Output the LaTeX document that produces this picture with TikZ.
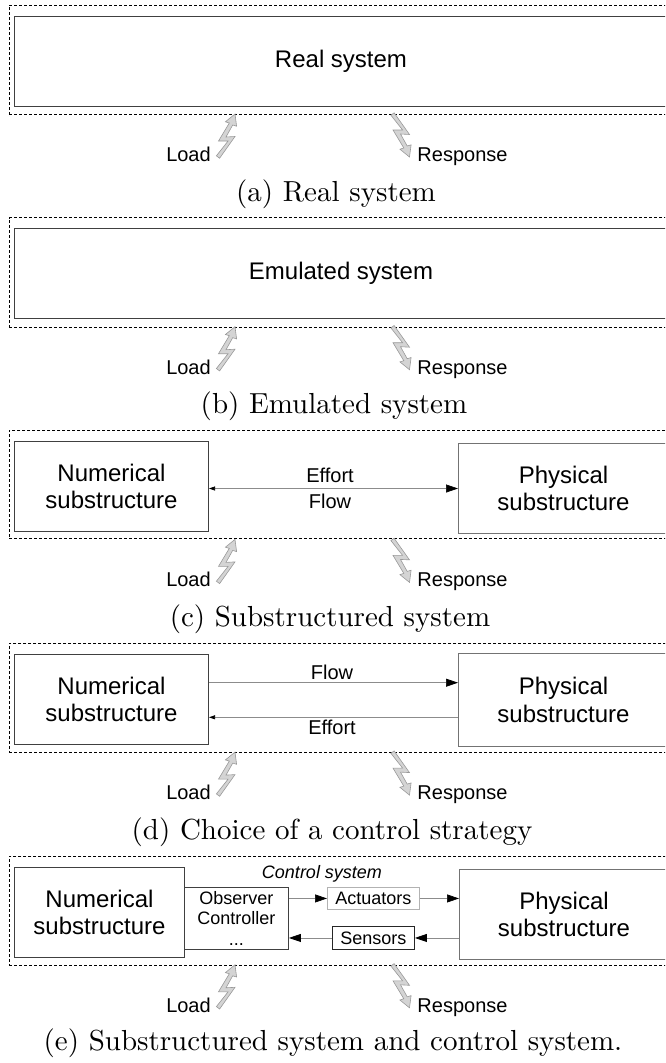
\documentclass[tikz,border=0pt]{standalone}
\usepackage{fontspec}
\newfontfamily\sansf{Liberation Sans}
\usetikzlibrary{arrows.meta}
\tikzset{
  dashbox/.style={draw=black, dash pattern=on 3pt off 2pt, line width=0.8pt, inner sep=0pt, anchor=north west},
  bigbox/.style={draw=black!75, line width=1pt, inner sep=0pt, anchor=north west, align=center, font=\sansf\fontsize{24}{27.6}\selectfont},
  physbox/.style={bigbox, draw=black!55},
  ctrlbox/.style={draw=black!75, line width=0.9pt, inner sep=0pt, anchor=north west, align=center, font=\sansf\fontsize{18}{20.7}\selectfont},
  lbl/.style={font=\sansf\fontsize{20}{23}\selectfont, anchor=base, inner sep=0pt},
  capt/.style={font=\fontsize{10}{12}\selectfont, scale=2.9, anchor=base, inner sep=0pt},
  conn/.style={draw=black!45, line width=0.7pt},
  bigtip/.style={-{Triangle[length=12pt,width=8pt,color=black]}},
  smalltip/.style={-{Triangle[length=6pt,width=4pt,color=black]}},
  boltshape/.style={draw=black!40, fill=black!17, line width=0.6pt, line join=miter},
  bolt/.pic={\path[boltshape] (0,0) -- (1.6,12.2) -- (-2.3,11) -- (-9,23) -- (0,22.5) -- (-15.4,44.2) -- (-18.6,41.8) -- (-6.9,27) -- (-16.5,27) -- (-5.7,9) -- (-9.6,7.8) -- cycle;}
}
\newcommand\loadresp[1]{%
  \pic at (235,114) {bolt};
  \pic[yscale=-1] at (409.5,157) {bolt};
  \node[lbl] (load#1) at (188.5,161.5) {Load};
  \node[lbl] (resp#1) at (462.5,161.5) {Response};
}
\begin{document}
\begin{tikzpicture}[x=1pt,y=-1pt]
\useasboundingbox (0,0) rectangle (665,1063);
\clip (0,0) rectangle (665,1063);
% ---------- (a)
\begin{scope}
  \node[dashbox, minimum width=664pt, minimum height=109.5pt] (framea) at (9,4.5) {};
  \node[bigbox, minimum width=653pt, minimum height=90pt] (real) at (14,15.5) {Real system};
  \loadresp{a}
  \node[capt] (capa) at (336,201) {(a) Real system};
\end{scope}
% ---------- (b)
\begin{scope}[shift={(0,212.7)}]
  \node[dashbox, minimum width=664pt, minimum height=109.5pt] (frameb) at (9,4.5) {};
  \node[bigbox, minimum width=653pt, minimum height=90pt] (emu) at (14,15.5) {Emulated system};
  \loadresp{b}
  \node[capt] (capb) at (334,201) {(b) Emulated system};
\end{scope}
% ---------- (c)
\begin{scope}[shift={(0,425.4)}]
  \node[dashbox, minimum width=664pt, minimum height=108pt] (framec) at (9,4.6) {};
  \node[bigbox, minimum width=194pt, minimum height=90pt] (numc) at (14,15.6) {Numerical\\substructure};
  \node[physbox, minimum width=210pt, minimum height=90pt] (physc) at (458,17.6) {Physical\\substructure};
  \draw[conn, {Triangle[length=6pt,width=4pt,color=black]}-{Triangle[length=12pt,width=8pt,color=black]}] (numc.east |- physc.west) -- (physc.west);
  \node[lbl] (effc) at (330,56.6) {Effort};
  \node[lbl] (flowc) at (330,83) {Flow};
  \loadresp{c}
  \node[capt] (capc) at (330,201) {(c) Substructured system};
\end{scope}
% ---------- (d)
\begin{scope}[shift={(0,638.1)}]
  \node[dashbox, minimum width=664pt, minimum height=109pt] (framed) at (9,4.9) {};
  \node[bigbox, minimum width=194pt, minimum height=90pt] (numd) at (14,16) {Numerical\\substructure};
  \node[physbox, minimum width=210pt, minimum height=93pt] (physd) at (458,15) {Physical\\substructure};
  \coordinate (fyd) at (0,44.6);
  \coordinate (eyd) at (0,79.2);
  \draw[conn, bigtip] (numd.east |- fyd) -- (physd.west |- fyd);
  \draw[conn, smalltip] (physd.west |- eyd) -- (numd.east |- eyd);
  \node[lbl] (flowd) at (332,41.2) {Flow};
  \node[lbl] (effd) at (332,95.9) {Effort};
  \loadresp{d}
  \node[capt] (capd) at (332,201) {(d) Choice of a control strategy};
\end{scope}
% ---------- (e)
\begin{scope}[shift={(0,850.8)}]
  \node[dashbox, minimum width=664pt, minimum height=109pt] (framee) at (9,5.2) {};
  \node[bigbox, minimum width=170pt, minimum height=90pt] (nume) at (14,16.2) {Numerical\\substructure};
  \node[ctrlbox, minimum width=104pt, minimum height=62pt] (obs) at (184,36.2) {Observer\\Controller\\...};
  \node[ctrlbox, draw=black!30, minimum width=92pt, minimum height=22pt] (act) at (327,36.2) {Actuators};
  \node[ctrlbox, draw=black!85, minimum width=82pt, minimum height=23pt] (sens) at (332,75.2) {Sensors};
  \node[physbox, minimum width=209pt, minimum height=90pt] (physe) at (459,18.2) {Physical\\substructure};
  \node[font=\sansf\itshape\fontsize{18}{20.7}\selectfont, anchor=base, inner sep=0pt] (ctl) at (322,27.5) {Control system};
  \draw[conn, bigtip] (obs.east |- act.west) -- (act.west);
  \draw[conn, bigtip] (act.east) -- (physe.west |- act.east);
  \draw[conn, bigtip] (physe.west |- sens.east) -- (sens.east);
  \draw[conn, bigtip] (sens.west) -- (obs.east |- sens.west);
  \loadresp{e}
  \node[capt] (cape) at (333,200) {(e) Substructured system and control system.};
\end{scope}
\end{tikzpicture}
\end{document}
